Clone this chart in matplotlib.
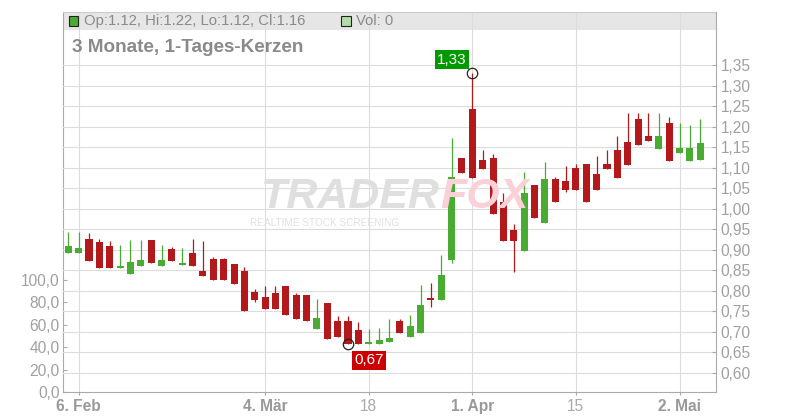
import matplotlib
matplotlib.use("Agg")
import matplotlib.pyplot as plt
import numpy as np
from matplotlib.patches import Rectangle

plt.rcParams["font.family"] = ["Liberation Sans", "DejaVu Sans"]

# Tageskerzen, 5. Feb bis 6. Mai (Index = Handelstag)
OPEN = [0.892, 0.892, 0.926, 0.919, 0.909, 0.856, 0.841, 0.861, 0.924, 0.861,
        0.902, 0.862, 0.892, 0.848, 0.877, 0.877, 0.865, 0.848, 0.797, 0.784,
        0.794, 0.811, 0.789, 0.789, 0.706, 0.770, 0.726, 0.726, 0.704, 0.670,
        0.670, 0.674, 0.726, 0.687, 0.697, 0.780, 0.777, 0.875, 1.124, 1.243,
        1.119, 1.124, 1.017, 0.948, 0.897, 1.058, 0.965, 1.072, 1.067, 1.099,
        1.109, 1.085, 1.109, 1.143, 1.163, 1.219, 1.178, 1.146, 1.209, 1.136,
        1.116, 1.12]
HIGH = [0.944, 0.944, 0.941, 0.926, 0.921, 0.911, 0.924, 0.924, 0.924, 0.911,
        0.906, 0.904, 0.926, 0.921, 0.882, 0.880, 0.865, 0.858, 0.804, 0.811,
        0.811, 0.811, 0.794, 0.789, 0.779, 0.770, 0.738, 0.738, 0.723, 0.706,
        0.709, 0.731, 0.731, 0.741, 0.814, 0.819, 0.887, 1.172, 1.124, 1.330,
        1.143, 1.134, 1.039, 0.963, 1.089, 1.058, 1.114, 1.077, 1.104, 1.109,
        1.109, 1.129, 1.143, 1.178, 1.234, 1.234, 1.234, 1.234, 1.224, 1.209,
        1.204, 1.22]
LOW = [0.892, 0.892, 0.873, 0.856, 0.856, 0.856, 0.841, 0.861, 0.868, 0.861,
       0.873, 0.862, 0.861, 0.836, 0.826, 0.826, 0.816, 0.750, 0.772, 0.755,
       0.755, 0.740, 0.730, 0.726, 0.706, 0.682, 0.687, 0.670, 0.670, 0.670,
       0.670, 0.674, 0.697, 0.687, 0.697, 0.760, 0.777, 0.868, 1.087, 1.075,
       1.097, 0.987, 0.921, 0.846, 0.897, 0.977, 0.965, 1.017, 1.041, 1.046,
       1.017, 1.046, 1.097, 1.075, 1.107, 1.155, 1.165, 1.146, 1.116, 1.136,
       1.116, 1.12]
CLOSE = [0.909, 0.904, 0.873, 0.856, 0.856, 0.859, 0.870, 0.875, 0.868, 0.875,
         0.873, 0.864, 0.861, 0.836, 0.826, 0.826, 0.816, 0.750, 0.777, 0.755,
         0.755, 0.740, 0.730, 0.726, 0.733, 0.682, 0.687, 0.670, 0.670, 0.675,
         0.680, 0.684, 0.697, 0.714, 0.765, 0.776, 0.838, 1.077, 1.087, 1.075,
         1.097, 0.987, 0.921, 0.921, 1.039, 0.977, 1.072, 1.017, 1.046, 1.046,
         1.017, 1.046, 1.097, 1.075, 1.107, 1.155, 1.165, 1.178, 1.116, 1.148,
         1.148, 1.16]
VOL_LAST = 0

DATE_TICK_POS = [1, 19, 29, 39, 49, 59]
DATE_TICK_LABELS = ["6. Feb", "4. Mär", "18", "1. Apr", "15", "2. Mai"]
DATE_TICK_BOLD = [True, True, False, True, False, True]

PRICE_TICKS = [0.60, 0.65, 0.70, 0.75, 0.80, 0.85, 0.90, 0.95, 1.00,
               1.05, 1.10, 1.15, 1.20, 1.25, 1.30, 1.35]
VOL_TICKS = [0, 20, 40, 60, 80, 100]

UP = "#4aab33"
DOWN = "#b3181b"
GRID = "#dcdcdc"
AXIS = "#aaaaaa"
LABEL = "#a0a0a0"
TEXT = "#8a8a8a"


def de(v, nd):
    return f"{v:.{nd}f}".replace(".", ",")


fig = plt.figure(figsize=(8, 4.2), dpi=100)
fig.patch.set_facecolor("white")
ax_vol = fig.add_axes([63 / 800, 28 / 420, 653 / 800, 380 / 420])
ax = ax_vol.twinx()

# Kerzen
o = np.array(OPEN)
h = np.array(HIGH)
l = np.array(LOW)
c = np.array(CLOSE)
x = np.arange(len(o))
colors = [UP if ci >= oi else DOWN for oi, ci in zip(o, c)]
bottom = np.minimum(o, c)
height = np.maximum(np.abs(c - o), 0.005)
ax.vlines(x, l, h, colors=colors, linewidth=0.9, zorder=2)
ax.bar(x, height, bottom=bottom, width=0.68, color=colors, edgecolor="none", zorder=3)

ax.set_xlim(-0.51, 62.52)
ax.set_ylim(0.5526, 1.4801)
ax_vol.set_ylim(0, 339.3)

# Rechte Preisachse
ax.set_yticks(PRICE_TICKS)
ax.set_yticklabels([de(v, 2) for v in PRICE_TICKS])
ax.tick_params(axis="y", direction="in", length=3, color=AXIS, labelcolor=LABEL,
               labelsize=11.2, pad=3.4)
ax.grid(axis="y", color=GRID, linewidth=0.8)
ax.set_axisbelow(True)

# Linke Volumenachse
ax_vol.set_yticks(VOL_TICKS)
ax_vol.set_yticklabels([de(v, 1) for v in VOL_TICKS])
ax_vol.tick_params(axis="y", direction="in", length=3, color=AXIS, labelcolor=LABEL,
                   labelsize=11.2, pad=2.5)

ax_vol.set_xticks(DATE_TICK_POS)
ax_vol.set_xticklabels(DATE_TICK_LABELS)
ax_vol.tick_params(axis="x", direction="out", length=2, color=AXIS, labelsize=11.2, pad=3)
for lab, bold in zip(ax_vol.get_xticklabels(), DATE_TICK_BOLD):
    lab.set_fontweight("bold" if bold else "normal")
    lab.set_color("#999999" if bold else "#aaaaaa")
ax_vol.grid(axis="x", color=GRID, linewidth=0.8)
ax_vol.set_axisbelow(True)

for side in ("left", "top", "bottom"):
    ax.spines[side].set_visible(False)
ax.spines["right"].set_color(AXIS)
ax_vol.spines["right"].set_visible(False)
ax_vol.spines["left"].set_color(AXIS)
ax_vol.spines["bottom"].set_color(AXIS)
ax_vol.spines["top"].set_color("#cccccc")
for sp in list(ax.spines.values()) + list(ax_vol.spines.values()):
    sp.set_linewidth(0.8)

# Kopfzeile
ax_vol.add_patch(Rectangle((0, (392 - 29.7) / 380), 1, 17.7 / 380, transform=ax_vol.transAxes,
                           facecolor="#e6e6e6", edgecolor="none", zorder=0.1))
fig.add_artist(Rectangle((68.5 / 800, 1 - 26 / 420), 9.5 / 800, 9.5 / 420, transform=fig.transFigure,
                         facecolor=UP, edgecolor="#222222", linewidth=0.8))
fig.add_artist(Rectangle((341 / 800, 1 - 26 / 420), 9.5 / 800, 9.5 / 420, transform=fig.transFigure,
                         facecolor="#b2dcaa", edgecolor="#222222", linewidth=0.8))
fig.text(84 / 800, 1 - 21 / 420,
         f"Op:{OPEN[-1]:.2f}, Hi:{HIGH[-1]:.2f}, Lo:{LOW[-1]:.2f}, Cl:{CLOSE[-1]:.2f}",
         ha="left", va="center", fontsize=10.7, color=TEXT)
fig.text(356 / 800, 1 - 21 / 420, f"Vol: {VOL_LAST}", ha="left", va="center",
         fontsize=10.7, color=TEXT)
fig.text(72 / 800, 1 - 47 / 420, "3 Monate, 1-Tages-Kerzen", ha="left", va="center",
         fontsize=13.6, fontweight="bold", color=TEXT)

# Wasserzeichen
fig.text(440 / 800, 1 - 208 / 420, "TRADER", ha="right", va="baseline", fontsize=31,
         fontweight="bold", fontstyle="italic", color="#dfdfdf", zorder=0)
fig.text(440 / 800, 1 - 208 / 420, "FOX", ha="left", va="baseline", fontsize=31,
         fontweight="bold", fontstyle="italic", color="#fbd0d6", zorder=0)
fig.text(250 / 800, 1 - 223.5 / 420, "REALTIME STOCK SCREENING", ha="left", va="center",
         fontsize=7.2, color="#e0e0e0", zorder=0)

# Hoch / Tief
i_hi = int(np.argmax(h))
i_lo = int(np.argmin(l))
ax.plot([i_hi, i_lo], [h[i_hi], l[i_lo]], "o", markersize=7.5, markerfacecolor="none",
        markeredgecolor="#222222", markeredgewidth=0.9, zorder=5, clip_on=False)
ax.annotate(de(h[i_hi], 2), xy=(i_hi, h[i_hi]), xytext=(-14.8, 9.9), textcoords="offset points",
            ha="center", va="center", fontsize=11, color="white", zorder=6,
            bbox=dict(boxstyle="square,pad=0.15", facecolor="#009900", edgecolor="none"))
ax.annotate(de(l[i_lo], 2), xy=(i_lo, l[i_lo]), xytext=(14.9, -11.9), textcoords="offset points",
            ha="center", va="center", fontsize=11, color="white", zorder=6,
            bbox=dict(boxstyle="square,pad=0.15", facecolor="#cc0000", edgecolor="none"))

fig.savefig("out.png", dpi=100, facecolor="white")
